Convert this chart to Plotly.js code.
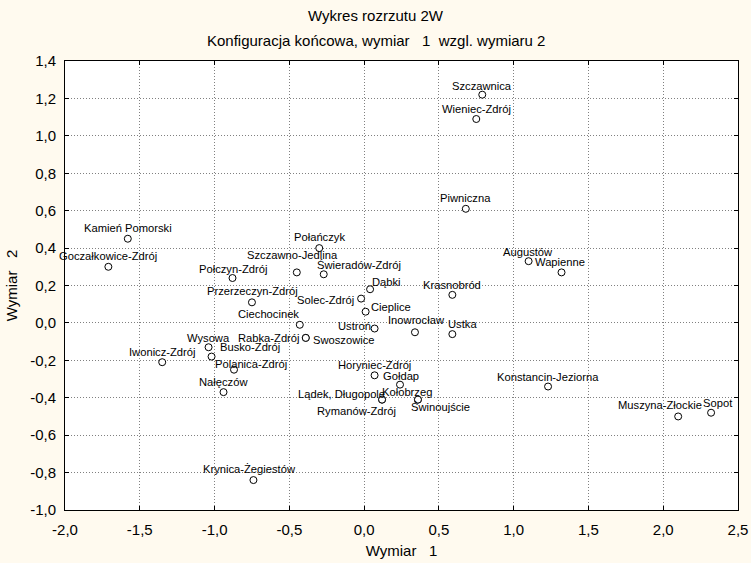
<!DOCTYPE html>
<html>
<head>
<meta charset="utf-8">
<script src="https://cdn.plot.ly/plotly-3.0.1.min.js"></script>
<style>html,body{margin:0;padding:0;background:#FFFAEF;}</style>
</head>
<body>
<div id="chart" style="width:751px;height:563px;"></div>
<script>
// ---- data ----
const names = ["Szczawnica","Wieniec-Zdrój","Piwniczna","Kamień Pomorski","Połańczyk","Augustów","Wapienne",
  "Goczałkowice-Zdrój","Szczawno-Jedlina","Świeradów-Zdrój","Połczyn-Zdrój","Dąbki","Krasnobród","Przerzeczyn-Zdrój",
  "Solec-Zdrój","Cieplice","Ciechocinek","Ustroń","Inowrocław","Ustka","Wysowa","Rabka-Zdrój","Swoszowice",
  "Busko-Zdrój","Iwonicz-Zdrój","Polanica-Zdrój","Horyniec-Zdrój","Gołdap","Konstancin-Jeziorna","Nałęczów",
  "Lądek, Długopole","Kołobrzeg","Rymanów-Zdrój","Świnoujście","Muszyna-Złockie","Sopot","Krynica-Żegiestów"];
const dim1 = [0.79,0.75,0.68,-1.58,-0.30,1.10,1.32,
  -1.71,-0.45,-0.27,-0.88,0.04,0.59,-0.75,
  -0.02,0.01,-0.43,0.07,0.34,0.59,-1.04,-0.39,-0.39,
  -1.02,-1.35,-0.87,0.07,0.24,1.23,-0.94,
  0.12,0.36,0.12,0.36,2.10,2.32,-0.74];
const dim2 = [1.22,1.09,0.61,0.45,0.40,0.33,0.27,
  0.30,0.27,0.26,0.24,0.18,0.15,0.11,
  0.13,0.06,-0.01,-0.03,-0.05,-0.06,-0.13,-0.08,-0.08,
  -0.18,-0.21,-0.25,-0.28,-0.33,-0.34,-0.37,
  -0.41,-0.41,-0.41,-0.41,-0.50,-0.48,-0.84];
const xTickVals = [-2.0,-1.5,-1.0,-0.5,0.0,0.5,1.0,1.5,2.0,2.5];
const xTickText = ["-2,0","-1,5","-1,0","-0,5","0,0","0,5","1,0","1,5","2,0","2,5"];
const yTickVals = [-1.0,-0.8,-0.6,-0.4,-0.2,0.0,0.2,0.4,0.6,0.8,1.0,1.2,1.4];
const yTickText = ["-1,0","-0,8","-0,6","-0,4","-0,2","0,0","0,2","0,4","0,6","0,8","1,0","1,2","1,4"];

// ---- label offsets in pixels (style) ----
const labelDx = [0,0,0,0,0,-1,-2,
  0,-4,35,0,16,0,1,
  -36,25,-31,-20,2,10,0,-37,38,
  38,0,17,0,1,0,0,
  -41,-11,-26,23,-18,7,-4];
const labelDy = [-9,-10,-11,-11,-11,-9,-10,
  -11,-17,-9,-9,-7,-10,-11,
  1,-5,-11,-3,-12,-10,-9,0,2,
  -10,-10,-6,-10,-9,-10,-10,
  -6,-8,11,7,-11,-10,-11];

const FONT = '"Liberation Sans", Arial, sans-serif';

const trace = {
  type: 'scatter', mode: 'markers',
  x: dim1, y: dim2, text: names, hoverinfo: 'text',
  marker: {symbol: 'circle', size: 7, color: '#ffffff', line: {color: '#000000', width: 1}},
  cliponaxis: false
};

const annotations = names.map((n, i) => ({
  x: dim1[i], y: dim2[i], xref: 'x', yref: 'y', text: n, showarrow: false,
  xanchor: 'center', yanchor: 'middle', xshift: labelDx[i], yshift: -labelDy[i],
  font: {family: FONT, size: 11.2, color: '#000000'}
}));

annotations.push({
  xref: 'paper', yref: 'paper', x: (375.5 - 65) / 673, y: 1 + 20 / 449,
  xanchor: 'center', yanchor: 'middle', showarrow: false,
  text: 'Konfiguracja końcowa, wymiar\u00a0\u00a0\u00a01\u00a0\u00a0wzgl. wymiaru 2',
  font: {family: FONT, size: 15, color: '#000000'}
});

const axisCommon = {
  showline: true, linecolor: '#000000', linewidth: 1, mirror: 'allticks',
  ticks: 'inside', ticklen: 4, tickwidth: 1, tickcolor: '#000000',
  showgrid: true, gridcolor: '#808080', gridwidth: 1, griddash: '1px,2px',
  zeroline: false, tickmode: 'array',
  tickfont: {family: FONT, size: 15, color: '#000000'}
};

const layout = {
  width: 751, height: 563,
  paper_bgcolor: '#FFFAEF', plot_bgcolor: '#ffffff',
  margin: {l: 65, r: 13, t: 61, b: 53},
  showlegend: false,
  title: {text: 'Wykres rozrzutu 2W', x: 0.5, xref: 'container', xanchor: 'center',
          y: 1 - 16 / 563, yref: 'container', yanchor: 'middle',
          font: {family: FONT, size: 15, color: '#000000'}},
  xaxis: Object.assign({}, axisCommon, {
    range: [-2, 2.5], tickvals: xTickVals, ticktext: xTickText, ticklabelstandoff: 6,
    title: {text: 'Wymiar\u00a0\u00a0\u00a01', standoff: 8, font: {family: FONT, size: 15, color: '#000000'}}
  }),
  yaxis: Object.assign({}, axisCommon, {
    range: [-1, 1.4], tickvals: yTickVals, ticktext: yTickText, ticklabelstandoff: 5,
    title: {text: 'Wymiar\u00a0\u00a0\u00a02', standoff: 8, font: {family: FONT, size: 15, color: '#000000'}}
  }),
  annotations: annotations
};

Plotly.newPlot('chart', [trace], layout, {displayModeBar: false, staticPlot: true});
</script>
</body>
</html>
